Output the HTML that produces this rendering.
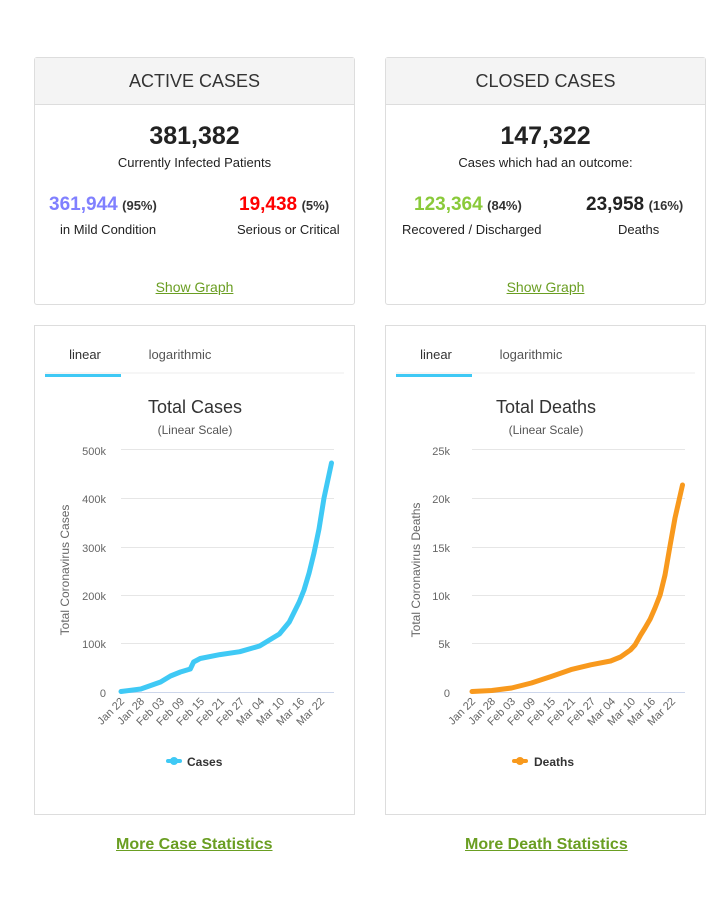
<!DOCTYPE html>
<html><head><meta charset="utf-8"><style>
body{margin:0;width:724px;height:898px;background:#fff;font-family:"Liberation Sans",Arial,sans-serif;position:relative;overflow:hidden;color:#222}
.card{position:absolute;border:1px solid #ddd;border-radius:3px;background:#fff;box-sizing:border-box}
.hd{height:46px;background:#f4f4f4;border-bottom:1px solid #ddd;text-align:center;font-size:18px;line-height:46px;color:#333}
.a{position:absolute;text-align:center;white-space:nowrap}
.big{font-size:25px;font-weight:bold;color:#222}
.sub{font-size:13px;color:#222}
.n{font-size:19px;font-weight:bold}
.p{font-size:13px;font-weight:bold;color:#333}
.p span{font-weight:normal}
.lnk{font-size:14px;color:#6a9e22;text-decoration:underline}
.more{position:absolute;font-size:16px;font-weight:bold;color:#6a9e22;text-decoration:underline;white-space:nowrap}
</style></head><body>
<div class="card" style="left:34px;top:57px;width:321px;height:248px">
 <div class="hd">ACTIVE CASES</div>
 <div class="a big" style="left:0;right:0;top:64px">381,382</div>
 <div class="a sub" style="left:0;right:0;top:97px">Currently Infected Patients</div>
 <div class="a" style="left:14px;top:136px"><span class="n" style="color:#8080ff">361,944</span> <span class="p">(95%)</span></div>
 <div class="a sub" style="left:25px;top:164px">in Mild Condition</div>
 <div class="a" style="left:204px;top:136px"><span class="n" style="color:#ff0000">19,438</span> <span class="p">(5%)</span></div>
 <div class="a sub" style="left:202px;top:164px">Serious or Critical</div>
 <div class="a lnk" style="left:0;right:0;top:221px">Show Graph</div>
</div>
<div class="card" style="left:385px;top:57px;width:321px;height:248px">
 <div class="hd">CLOSED CASES</div>
 <div class="a big" style="left:0;right:0;top:64px">147,322</div>
 <div class="a sub" style="left:0;right:0;top:97px">Cases which had an outcome:</div>
 <div class="a" style="left:28px;top:136px"><span class="n" style="color:#8aca3a">123,364</span> <span class="p">(84%)</span></div>
 <div class="a sub" style="left:16px;top:164px">Recovered / Discharged</div>
 <div class="a" style="left:200px;top:136px"><span class="n" style="color:#222">23,958</span> <span class="p">(16%)</span></div>
 <div class="a sub" style="left:232px;top:164px">Deaths</div>
 <div class="a lnk" style="left:0;right:0;top:221px">Show Graph</div>
</div>
<div class="card" style="left:34px;top:325px;width:321px;height:490px;border-radius:0"></div>
<div class="card" style="left:385px;top:325px;width:321px;height:490px;border-radius:0"></div>
<svg width="724" height="898" style="position:absolute;left:0;top:0" font-family="Liberation Sans, Arial, sans-serif">
<g id="L">
 <line x1="45" y1="373" x2="344" y2="373" stroke="#eee"/>
 <rect x="45" y="374" width="76" height="3" fill="#3fc9f5"/>
 <text x="85" y="359" font-size="13" fill="#333" text-anchor="middle">linear</text>
 <text x="180" y="359" font-size="13" fill="#555" text-anchor="middle">logarithmic</text>
 <text x="195" y="413" font-size="18" fill="#333" text-anchor="middle">Total Cases</text>
 <text x="195" y="434" font-size="12" fill="#555" text-anchor="middle">(Linear Scale)</text>
 <g stroke="#e6e6e6"><line x1="121" x2="334" y1="449.5" y2="449.5"/><line x1="121" x2="334" y1="498.5" y2="498.5"/><line x1="121" x2="334" y1="547.5" y2="547.5"/><line x1="121" x2="334" y1="595.5" y2="595.5"/><line x1="121" x2="334" y1="643.5" y2="643.5"/></g>
 <line x1="121" x2="334" y1="692.5" y2="692.5" stroke="#ccd6eb"/>
 <g font-size="11" fill="#666" text-anchor="end"><text x="106" y="455">500k</text><text x="106" y="503">400k</text><text x="106" y="552">300k</text><text x="106" y="600">200k</text><text x="106" y="648">100k</text><text x="106" y="697">0</text></g>
 <text transform="translate(69,570) rotate(-90)" font-size="12" fill="#666" text-anchor="middle">Total Coronavirus Cases</text>
 <g font-size="11" fill="#666" text-anchor="end">
  <text transform="translate(125,702) rotate(-45)">Jan 22</text>
  <text transform="translate(145,702) rotate(-45)">Jan 28</text>
  <text transform="translate(165,702) rotate(-45)">Feb 03</text>
  <text transform="translate(185,702) rotate(-45)">Feb 09</text>
  <text transform="translate(205,702) rotate(-45)">Feb 15</text>
  <text transform="translate(225,702) rotate(-45)">Feb 21</text>
  <text transform="translate(245,702) rotate(-45)">Feb 27</text>
  <text transform="translate(265,702) rotate(-45)">Mar 04</text>
  <text transform="translate(285,702) rotate(-45)">Mar 10</text>
  <text transform="translate(305,702) rotate(-45)">Mar 16</text>
  <text transform="translate(325,702) rotate(-45)">Mar 22</text>
 </g>
</g>
<polyline fill="none" stroke="#3fc9f5" stroke-width="5" stroke-linejoin="round" stroke-linecap="round" points="121,691.5 140.8,689 160.6,682 170.5,676 180.4,672 190.3,669 193.6,662 200.2,658.5 220,654.6 239.8,651.7 259.6,646 279.4,634 289.3,622 299.2,602 304,590 309.1,573 314,553 319,529 324,498 331.5,463"/>
<rect x="166" y="759" width="16" height="4" rx="2" fill="#3fc9f5"/><circle cx="174" cy="761" r="4" fill="#3fc9f5"/>
<text x="187" y="766" font-size="12" font-weight="bold" fill="#333">Cases</text>

<use href="#L" x="0" y="0" style="display:none"/>
<g transform="translate(351,0)">
 <line x1="45" y1="373" x2="344" y2="373" stroke="#eee"/>
 <rect x="45" y="374" width="76" height="3" fill="#3fc9f5"/>
 <text x="85" y="359" font-size="13" fill="#333" text-anchor="middle">linear</text>
 <text x="180" y="359" font-size="13" fill="#555" text-anchor="middle">logarithmic</text>
 <text x="195" y="413" font-size="18" fill="#333" text-anchor="middle">Total Deaths</text>
 <text x="195" y="434" font-size="12" fill="#555" text-anchor="middle">(Linear Scale)</text>
 <g stroke="#e6e6e6"><line x1="121" x2="334" y1="449.5" y2="449.5"/><line x1="121" x2="334" y1="498.5" y2="498.5"/><line x1="121" x2="334" y1="547.5" y2="547.5"/><line x1="121" x2="334" y1="595.5" y2="595.5"/><line x1="121" x2="334" y1="643.5" y2="643.5"/></g>
 <line x1="121" x2="334" y1="692.5" y2="692.5" stroke="#ccd6eb"/>
 <g font-size="11" fill="#666" text-anchor="end"><text x="99" y="455">25k</text><text x="99" y="503">20k</text><text x="99" y="552">15k</text><text x="99" y="600">10k</text><text x="99" y="648">5k</text><text x="99" y="697">0</text></g>
 <text transform="translate(69,570) rotate(-90)" font-size="12" fill="#666" text-anchor="middle">Total Coronavirus Deaths</text>
 <g font-size="11" fill="#666" text-anchor="end">
  <text transform="translate(125,702) rotate(-45)">Jan 22</text>
  <text transform="translate(145,702) rotate(-45)">Jan 28</text>
  <text transform="translate(165,702) rotate(-45)">Feb 03</text>
  <text transform="translate(185,702) rotate(-45)">Feb 09</text>
  <text transform="translate(205,702) rotate(-45)">Feb 15</text>
  <text transform="translate(225,702) rotate(-45)">Feb 21</text>
  <text transform="translate(245,702) rotate(-45)">Feb 27</text>
  <text transform="translate(265,702) rotate(-45)">Mar 04</text>
  <text transform="translate(285,702) rotate(-45)">Mar 10</text>
  <text transform="translate(305,702) rotate(-45)">Mar 16</text>
  <text transform="translate(325,702) rotate(-45)">Mar 22</text>
 </g>
 <polyline fill="none" stroke="#f8991d" stroke-width="5" stroke-linejoin="round" stroke-linecap="round" points="121,691.5 140.8,690.5 160.6,688 180.4,683 200.2,676.5 220,669.6 239.8,664.8 259.6,661 269.5,657 279.4,650 284,645 289.3,635.6 294,628 299.2,619 304,608 309.1,595 314,575 319,546 324,518 331.5,485"/>
 <rect x="161" y="759" width="16" height="4" rx="2" fill="#f8991d"/><circle cx="169" cy="761" r="4" fill="#f8991d"/>
 <text x="183" y="766" font-size="12" font-weight="bold" fill="#333">Deaths</text>
</g>
</svg>
<div class="more" style="left:116px;top:836px">More Case Statistics</div>
<div class="more" style="left:465px;top:836px">More Death Statistics</div>
</body></html>
